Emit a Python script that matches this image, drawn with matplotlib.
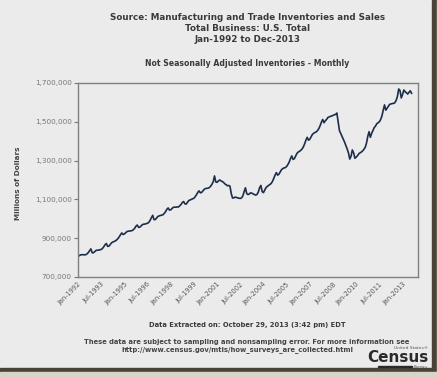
import matplotlib
matplotlib.use("Agg")
import matplotlib.pyplot as plt
from matplotlib.patches import Rectangle
import numpy as np

# Inventories, thousands of millions of dollars, monthly Jan-1992 .. Aug-2013
inv_1992 = [805, 810, 814, 815, 815, 814, 815, 819, 826, 836, 845, 825]
inv_1993 = [825, 831, 837, 838, 839, 840, 842, 847, 856, 866, 873, 858]
inv_1994 = [859, 867, 876, 880, 883, 886, 891, 898, 907, 918, 927, 919]
inv_1995 = [922, 928, 934, 936, 937, 938, 939, 944, 951, 962, 968, 956]
inv_1996 = [957, 963, 970, 972, 973, 975, 977, 982, 992, 1006, 1018, 996]
inv_1997 = [996, 1004, 1012, 1015, 1017, 1019, 1021, 1028, 1037, 1049, 1056, 1045]
inv_1998 = [1046, 1053, 1059, 1060, 1060, 1061, 1061, 1067, 1074, 1084, 1089, 1077]
inv_1999 = [1076, 1085, 1094, 1097, 1100, 1103, 1106, 1114, 1124, 1136, 1144, 1134]
inv_2000 = [1136, 1144, 1152, 1156, 1157, 1158, 1161, 1168, 1178, 1191, 1221, 1190]
inv_2001 = [1188, 1195, 1200, 1196, 1192, 1188, 1180, 1176, 1170, 1172, 1168, 1130]
inv_2002 = [1107, 1108, 1112, 1110, 1108, 1106, 1105, 1108, 1118, 1140, 1160, 1130]
inv_2003 = [1125, 1128, 1134, 1132, 1128, 1125, 1122, 1126, 1138, 1160, 1172, 1140]
inv_2004 = [1135, 1148, 1161, 1167, 1172, 1177, 1182, 1193, 1208, 1225, 1238, 1225]
inv_2005 = [1230, 1242, 1253, 1259, 1262, 1264, 1270, 1280, 1293, 1311, 1324, 1306]
inv_2006 = [1310, 1323, 1337, 1344, 1348, 1353, 1360, 1371, 1387, 1406, 1420, 1405]
inv_2007 = [1410, 1422, 1435, 1441, 1445, 1448, 1455, 1465, 1480, 1498, 1512, 1495]
inv_2008 = [1505, 1512, 1522, 1525, 1528, 1530, 1533, 1536, 1538, 1545, 1500, 1455]
inv_2009 = [1440, 1425, 1410, 1395, 1378, 1360, 1340, 1308, 1322, 1355, 1340, 1312]
inv_2010 = [1318, 1325, 1335, 1340, 1344, 1350, 1358, 1368, 1390, 1425, 1449, 1420]
inv_2011 = [1440, 1455, 1470, 1478, 1490, 1495, 1500, 1512, 1530, 1560, 1587, 1560]
inv_2012 = [1570, 1580, 1590, 1592, 1594, 1595, 1598, 1610, 1630, 1669, 1662, 1623]
inv_2013 = [1640, 1664, 1655, 1650, 1643, 1652, 1660, 1647]

years = [inv_1992, inv_1993, inv_1994, inv_1995, inv_1996, inv_1997, inv_1998,
         inv_1999, inv_2000, inv_2001, inv_2002, inv_2003, inv_2004, inv_2005,
         inv_2006, inv_2007, inv_2008, inv_2009, inv_2010, inv_2011, inv_2012,
         inv_2013]
values = np.array([v for yr in years for v in yr], dtype=float) * 1000.0
months = np.arange(len(values))

x_tick_labels = ["Jan-1992", "Jul-1993", "Jan-1995", "Jul-1996", "Jan-1998",
                 "Jul-1999", "Jan-2001", "Jul-2002", "Jan-2004", "Jul-2005",
                 "Jan-2007", "Jul-2008", "Jan-2010", "Jul-2011", "Jan-2013"]
x_tick_pos = [18 * i for i in range(len(x_tick_labels))]
y_ticks = [700000, 900000, 1100000, 1300000, 1500000, 1700000]
y_tick_labels = ["700,000", "900,000", "1,100,000", "1,300,000", "1,500,000", "1,700,000"]

W, H = 439, 377
fig = plt.figure(figsize=(W / 100, H / 100), dpi=100)
fig.patch.set_facecolor("#ebebeb")

# picture frame shadow (right and bottom)
fig.add_artist(Rectangle((432 / W, 0), 5 / W, 1, transform=fig.transFigure,
                         color="#4a4338", zorder=0))
fig.add_artist(Rectangle((0, (H - 372) / H), 437 / W, 4 / H, transform=fig.transFigure,
                         color="#4a4338", zorder=0))
fig.add_artist(Rectangle((437 / W, 0), 2 / W, 1, transform=fig.transFigure,
                         color="#d8d4cc", zorder=0))
fig.add_artist(Rectangle((0, 0), 439 / W, (H - 372) / H, transform=fig.transFigure,
                         color="#d8d4cc", zorder=0))

ax = fig.add_axes([78 / W, (H - 277) / H, (418 - 78) / W, (277 - 83) / H])
ax.set_facecolor("#ebebeb")
ax.plot(months, values, color="#1c2e4a", lw=1.2)
ax.set_xlim(0, 264)
ax.set_ylim(700000, 1700000)
ax.set_yticks(y_ticks)
ax.set_yticklabels(y_tick_labels, fontsize=5.2, color="#777777")
ax.set_xticks(x_tick_pos)
ax.set_xticklabels(x_tick_labels, fontsize=4.8, color="#555555",
                   rotation=45, ha="right", rotation_mode="anchor")
ax.tick_params(axis="y", length=3, width=0.8, color="#777777", pad=1.5)
ax.tick_params(axis="x", length=0, pad=3)
for s in ax.spines.values():
    s.set_color("#808080")
    s.set_linewidth(1.0)

txt = "#3a3a3a"
def ftext(x, y, s, **kw):
    fig.text(x / W, 1 - y / H, s, **kw)

ftext(248, 17, "Source: Manufacturing and Trade Inventories and Sales",
      ha="center", va="center", fontsize=6.3, fontweight="bold", color=txt)
ftext(248, 28.5, "Total Business: U.S. Total",
      ha="center", va="center", fontsize=6.3, fontweight="bold", color=txt)
ftext(248, 39.5, "Jan-1992 to Dec-2013",
      ha="center", va="center", fontsize=6.3, fontweight="bold", color=txt)
ftext(247, 63, "Not Seasonally Adjusted Inventories - Monthly",
      ha="center", va="center", fontsize=5.6, fontweight="bold", color=txt)
ftext(18, 183, "Millions of Dollars", ha="center", va="center",
      rotation=90, fontsize=5.2, fontweight="bold", color="#444444")
ftext(247, 325, "Data Extracted on: October 29, 2013 (3:42 pm) EDT",
      ha="center", va="center", fontsize=4.9, fontweight="bold", color=txt)
ftext(247, 342, "These data are subject to sampling and nonsampling error. For more information see",
      ha="center", va="center", fontsize=4.9, fontweight="bold", color="#444444")
ftext(237, 350, "http://www.census.gov/mtis/how_surveys_are_collected.html",
      ha="center", va="center", fontsize=4.9, fontweight="bold", color="#444444")
# Census logo
ftext(428, 348, "United States\u00ae", ha="right", va="center", fontsize=3.2,
      color="#555555")
ftext(429, 358, "Census", ha="right", va="center", fontsize=11,
      fontweight="bold", color="#2a2a2a")
fig.add_artist(Rectangle((378 / W, 1 - 367 / H), 34 / W, 1.5 / H,
                         transform=fig.transFigure, color="#2a2a2a"))
ftext(428, 366.5, "Bureau", ha="right", va="center", fontsize=2.8, color="#555555")

fig.savefig("out.png", dpi=100, facecolor=fig.get_facecolor())
